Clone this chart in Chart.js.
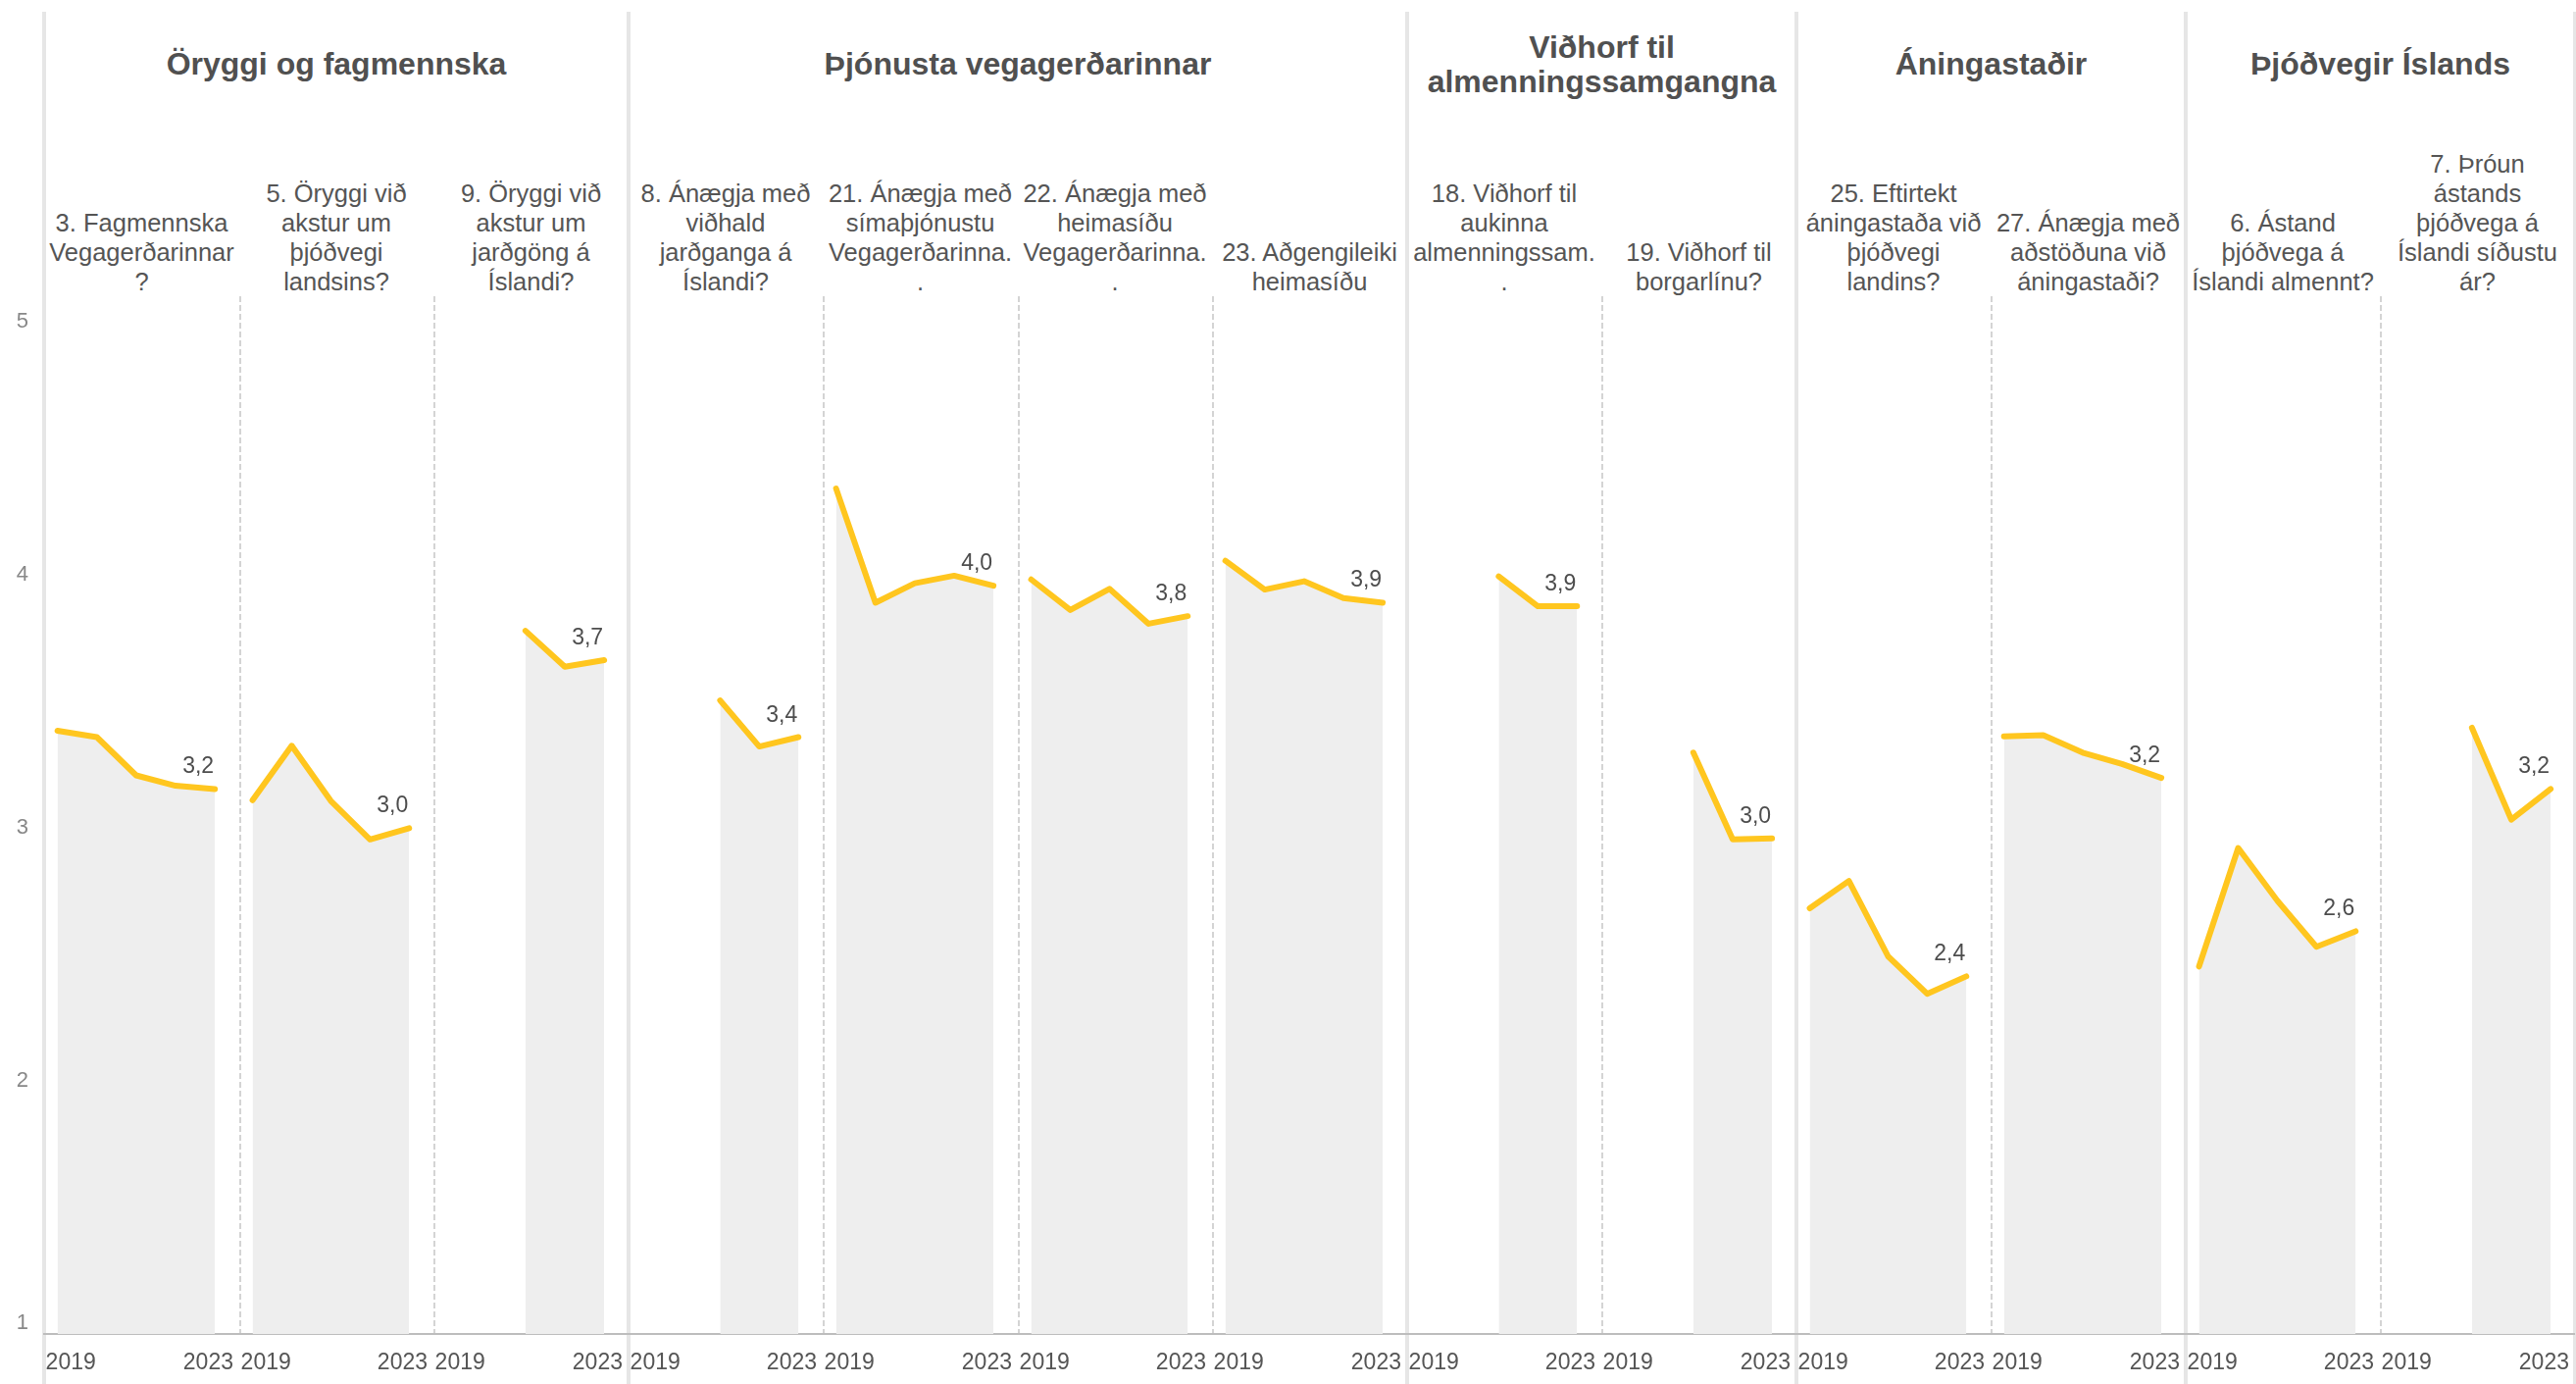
<!DOCTYPE html>
<html>
<head>
<meta charset="utf-8">
<script src="https://cdn.jsdelivr.net/npm/chart.js@4.4.1/dist/chart.umd.min.js"></script>
<style>
html, body { margin: 0; padding: 0; background: #ffffff; }
#stage { position: relative; width: 2627px; height: 1411px; overflow: hidden; font-family: "Liberation Sans", Arial, sans-serif; }
.gline { position: absolute; top: 12px; width: 4px; height: 1399px; background: #e6e6e6; }
.gtitle { position: absolute; top: 30px; height: 71px; display: flex; flex-direction: column; align-items: center; justify-content: center; text-align: center; font-weight: bold; font-size: 32px; line-height: 35px; color: #505050; white-space: nowrap; }
.ptitle { position: absolute; top: 0; height: 302px; display: flex; flex-direction: column; justify-content: flex-end; align-items: center; text-align: center; font-size: 25.5px; line-height: 30px; color: #555555; white-space: nowrap; }
canvas.panel { position: absolute; top: 302px; }
</style>
</head>
<body>
<div id="stage"></div>
<script>
// ---------------- data ----------------
const years = [2019, 2020, 2021, 2022, 2023];
const xTickLabels = ['2019', '2023'];
const yTickValues = [1, 2, 3, 4, 5];
const yTickLabels = ['1', '2', '3', '4', '5'];

const groupTitles = [
  ['Öryggi og fagmennska'],
  ['Þjónusta vegagerðarinnar'],
  ['Viðhorf til', 'almenningssamgangna'],
  ['Áningastaðir'],
  ['Þjóðvegir Íslands']
];
const groupSizes = [3, 4, 2, 2, 2];

const panelTitles = [
  ['3. Fagmennska', 'Vegagerðarinnar', '?'],
  ['5. Öryggi við', 'akstur um', 'þjóðvegi', 'landsins?'],
  ['9. Öryggi við', 'akstur um', 'jarðgöng á', 'Íslandi?'],
  ['8. Ánægja með', 'viðhald', 'jarðganga á', 'Íslandi?'],
  ['21. Ánægja með', 'símaþjónustu', 'Vegagerðarinna.', '.'],
  ['22. Ánægja með', 'heimasíðu', 'Vegagerðarinna.', '.'],
  ['23. Aðgengileiki', 'heimasíðu'],
  ['18. Viðhorf til', 'aukinna', 'almenningssam.', '.'],
  ['19. Viðhorf til', 'borgarlínu?'],
  ['25. Eftirtekt', 'áningastaða við', 'þjóðvegi', 'landins?'],
  ['27. Ánægja með', 'aðstöðuna við', 'áningastaði?'],
  ['6. Ástand', 'þjóðvega á', 'Íslandi almennt?'],
  ['7. Þróun', 'ástands', 'þjóðvega á', 'Íslandi síðustu', 'ár?']
];

const q3  = [3.383, 3.358, 3.207, 3.166, 3.153];
const q5  = [3.109, 3.324, 3.106, 2.954, 2.998];
const q9  = [null, null, 3.778, 3.636, 3.662];
const q8  = [null, null, 3.503, 3.321, 3.358];
const q21 = [4.340, 3.889, 3.966, 3.996, 3.956];
const q22 = [3.981, 3.860, 3.944, 3.806, 3.836];
const q23 = [4.055, 3.941, 3.974, 3.907, 3.889];
const q18 = [null, null, 3.993, 3.875, 3.875];
const q19 = [null, null, 3.297, 2.954, 2.958];
const q25 = [2.682, 2.790, 2.492, 2.344, 2.413];
const q27 = [3.361, 3.366, 3.297, 3.252, 3.197];
const q6  = [2.452, 2.920, 2.712, 2.530, 2.591];
const q7  = [null, null, 3.395, 3.032, 3.153];
const panelSeries = [q3, q5, q9, q8, q21, q22, q23, q18, q19, q25, q27, q6, q7];

// ---------------- style / layout ----------------
const LINE_COLOR = '#FFC61F';
const FILL_COLOR = '#eeeeee';
const AXIS_LEFT = 45;
const PANEL_W = 198.5;
const X_MIN = 2019 - 0.34;
const X_MAX = 2023 + 0.62;
const Y_MIN = 1, Y_MAX = 5.1;

Chart.defaults.font.family = '"Liberation Sans", Arial, sans-serif';

const stage = document.getElementById('stage');
const panelLeft = k => Math.round(AXIS_LEFT + k * PANEL_W);

const groupStarts = [];
{ let s = 0; for (const n of groupSizes) { groupStarts.push(s); s += n; } groupStarts.push(s); }

groupStarts.forEach(k => {
  const d = document.createElement('div');
  d.className = 'gline';
  d.style.left = (panelLeft(k) - 2) + 'px';
  stage.appendChild(d);
});

groupTitles.forEach((lines, g) => {
  const s = groupStarts[g], e = groupStarts[g + 1];
  const d = document.createElement('div');
  d.className = 'gtitle';
  d.style.left = panelLeft(s) + 'px';
  d.style.width = (panelLeft(e) - panelLeft(s)) + 'px';
  lines.forEach(t => { const sp = document.createElement('div'); sp.textContent = t; d.appendChild(sp); });
  stage.appendChild(d);
});

panelTitles.forEach((lines, k) => {
  const d = document.createElement('div');
  d.className = 'ptitle';
  d.style.left = panelLeft(k) + 'px';
  d.style.width = (panelLeft(k + 1) - panelLeft(k)) + 'px';
  lines.forEach(t => { const sp = document.createElement('div'); sp.textContent = t; d.appendChild(sp); });
  stage.appendChild(d);
});

// ---------------- plugins ----------------
const sepPlugin = {
  id: 'sep',
  beforeDraw(chart, args, opts) {
    if (!opts || !opts.on) return;
    const { ctx, chartArea } = chart;
    ctx.save();
    ctx.strokeStyle = '#d4d4d4';
    ctx.lineWidth = 2;
    ctx.setLineDash([6, 3]);
    ctx.beginPath();
    ctx.moveTo(chartArea.left + 1, 0);
    ctx.lineTo(chartArea.left + 1, chartArea.bottom);
    ctx.stroke();
    ctx.restore();
  }
};

const lastLabelPlugin = {
  id: 'lastLabel',
  afterDatasetsDraw(chart) {
    const ds = chart.data.datasets[0];
    const meta = chart.getDatasetMeta(0);
    let i = ds.data.length - 1;
    while (i >= 0 && ds.data[i] == null) i--;
    if (i < 0) return;
    const p = meta.data[i];
    const ctx = chart.ctx;
    ctx.save();
    ctx.font = '23px "Liberation Sans", Arial, sans-serif';
    ctx.fillStyle = '#4d4d4d';
    ctx.textAlign = 'right';
    ctx.textBaseline = 'alphabetic';
    ctx.fillText(ds.data[i].toFixed(1).replace('.', ','), p.x - 1, p.y - 16);
    ctx.restore();
  }
};

const yEdgePlugin = {
  id: 'yEdge',
  beforeDraw(chart) {
    const s = chart.scales.y;
    if (!s || !s.options.display || typeof s.getLabelItems !== 'function') return;
    const items = s.getLabelItems();
    if (!items) return;
    items.forEach(it => {
      if (it.label === yTickLabels[0] && it.options) it.options.textBaseline = 'bottom';
    });
  }
};

function zeroPad(s) { s.paddingLeft = 0; s.paddingRight = 0; s.paddingTop = 0; s.paddingBottom = 0; }

// ---------------- charts ----------------
panelSeries.forEach((series, k) => {
  const hasY = k === 0;
  const isGroupStart = groupStarts.includes(k);
  const cv = document.createElement('canvas');
  cv.className = 'panel';
  const left = hasY ? 0 : panelLeft(k);
  const width = panelLeft(k + 1) - left;
  cv.width = width;
  cv.height = 1109;
  cv.style.left = left + 'px';
  cv.style.width = width + 'px';
  cv.style.height = '1109px';
  stage.appendChild(cv);

  new Chart(cv, {
    type: 'line',
    data: {
      labels: years,
      datasets: [{
        data: series,
        borderColor: LINE_COLOR,
        borderWidth: 6,
        backgroundColor: FILL_COLOR,
        fill: 'start',
        pointRadius: 0,
        pointHoverRadius: 0,
        tension: 0,
        borderCapStyle: 'round',
        borderJoinStyle: 'round'
      }]
    },
    options: {
      responsive: false,
      animation: false,
      devicePixelRatio: 1,
      events: [],
      layout: { padding: 0, autoPadding: false },
      plugins: {
        legend: { display: false },
        tooltip: { enabled: false },
        title: { display: false },
        sep: { on: !isGroupStart }
      },
      scales: {
        x: {
          type: 'linear',
          min: X_MIN,
          max: X_MAX,
          grid: { display: false, drawTicks: false },
          border: { display: true, color: '#bdbdbd', width: 2 },
          afterBuildTicks: s => { s.ticks = [{ value: s.min + 0.04 }, { value: s.max - 0.15 }]; },
          afterFit: s => { s.height = 51; zeroPad(s); },
          ticks: {
            align: 'inner', autoSkip: false, maxRotation: 0, minRotation: 0,
            padding: 16, color: '#555555', font: { size: 23 },
            callback: (v, i) => xTickLabels[i]
          }
        },
        y: {
          type: 'linear',
          display: hasY,
          min: Y_MIN,
          max: Y_MAX,
          grid: { display: false, drawTicks: false },
          border: { display: false },
          afterBuildTicks: s => { s.ticks = yTickValues.map(v => ({ value: v })); },
          afterFit: s => { s.width = hasY ? AXIS_LEFT : 0; zeroPad(s); },
          ticks: {
            padding: 16, color: '#888888', font: { size: 22 },
            callback: (v, i) => yTickLabels[i]
          }
        }
      }
    },
    plugins: [sepPlugin, lastLabelPlugin, yEdgePlugin]
  });
});
</script>
</body>
</html>
